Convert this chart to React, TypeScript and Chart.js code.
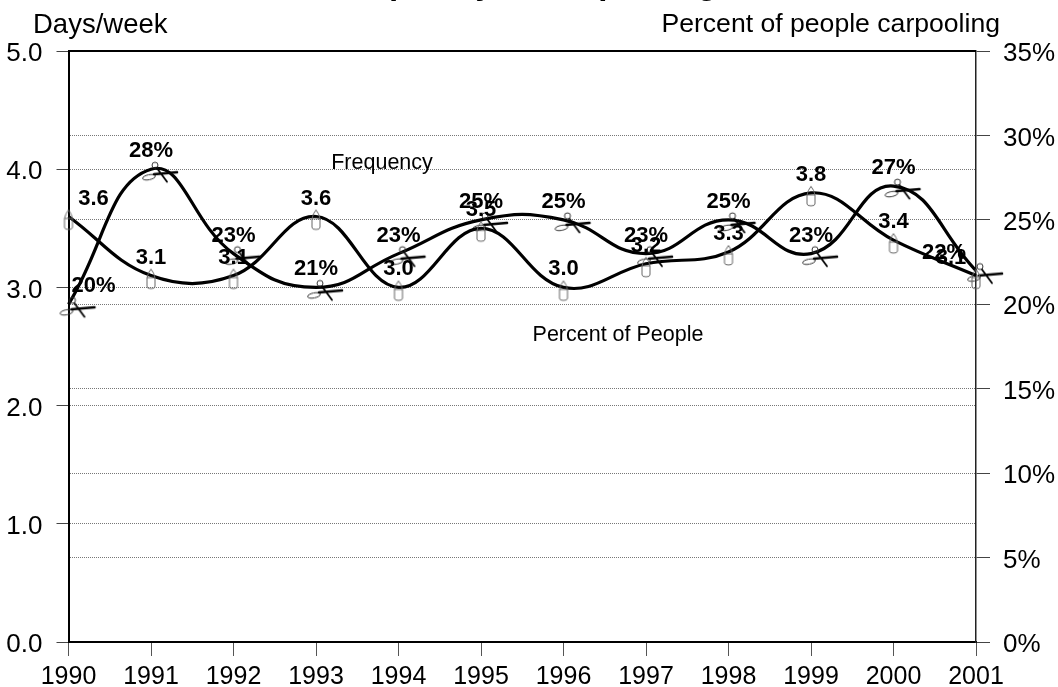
import React, { useEffect, useRef } from "react";
import { Chart, registerables } from "chart.js";

Chart.register(...registerables);

const years = ["1990", "1991", "1992", "1993", "1994", "1995", "1996", "1997", "1998", "1999", "2000", "2001"];
const frequency = [3.6, 3.1, 3.1, 3.6, 3.0, 3.5, 3.0, 3.2, 3.3, 3.8, 3.4, 3.1];
const percentPeople = [20, 28, 23, 21, 23, 25, 25, 23, 25, 23, 27, 22];

const FONT = '"Liberation Sans", Arial, sans-serif';
const AREA = { left: 68.5, right: 976, top: 51, bottom: 642 };

// Candle glyph: flame above the line, hollow body below it.
function makeCandle(): HTMLCanvasElement {
  const c = document.createElement("canvas");
  c.width = 24;
  c.height = 40;
  const g = c.getContext("2d")!;
  g.translate(12, 20);
  g.strokeStyle = "#666";
  g.lineWidth = 1;
  g.beginPath();
  g.moveTo(-4, 2);
  g.quadraticCurveTo(-3, -3, 0, -6.5);
  g.quadraticCurveTo(3, -3, 4, 2);
  g.stroke();
  g.beginPath();
  g.moveTo(-4, 2);
  g.lineTo(-4, 11);
  g.quadraticCurveTo(-4, 13, 0, 13);
  g.quadraticCurveTo(4, 13, 4, 11);
  g.lineTo(4, 2);
  g.closePath();
  g.stroke();
  return c;
}

// Scissors glyph: two finger loops and two black blades.
function makeScissors(): HTMLCanvasElement {
  const c = document.createElement("canvas");
  c.width = 64;
  c.height = 64;
  const g = c.getContext("2d")!;
  g.translate(32, 32);
  g.strokeStyle = "#333";
  g.lineWidth = 1;
  g.beginPath();
  g.arc(4, -4, 3, 0, Math.PI * 2);
  g.stroke();
  g.beginPath();
  g.ellipse(-2, 8, 6.5, 2.5, -0.2, 0, Math.PI * 2);
  g.stroke();
  g.strokeStyle = "#000";
  g.lineCap = "round";
  g.lineWidth = 2.6;
  g.beginPath();
  g.moveTo(3, 5);
  g.lineTo(26, 3);
  g.stroke();
  g.lineWidth = 1.8;
  g.beginPath();
  g.moveTo(6, -1);
  g.lineTo(16, 12.5);
  g.stroke();
  return c;
}

const textPlugin = {
  id: "chartText",
  afterDatasetsDraw(chart: any) {
    const { ctx } = chart;
    ctx.save();
    ctx.fillStyle = "#000";
    ctx.textBaseline = "middle";
    ctx.textAlign = "center";

    // Value labels above each point; the end labels are pulled inside the frame.
    ctx.font = `bold 22px ${FONT}`;
    const formats = [(v: number) => v.toFixed(1), (v: number) => `${v}%`];
    chart.data.datasets.forEach((ds: any, d: number) => {
      chart.getDatasetMeta(d).data.forEach((pt: any, i: number) => {
        const shift = i === 0 ? 25 : i === years.length - 1 ? (d === 0 ? -25 : -32) : 0;
        ctx.fillText(formats[d](ds.data[i]), pt.x + shift, pt.y - 18);
      });
    });

    // Series captions
    ctx.font = `21.5px ${FONT}`;
    ctx.fillText("Frequency", 382, 163);
    ctx.fillText("Percent of People", 618, 335);

    // Axis captions and heading, which runs off the top of the page
    ctx.textAlign = "left";
    ctx.font = `27.5px ${FONT}`;
    ctx.fillText("Days/week", 33, 25);
    ctx.textAlign = "right";
    ctx.font = `26.6px ${FONT}`;
    ctx.fillText("Percent of people carpooling", 1000, 25);
    ctx.font = `bold 33px ${FONT}`;
    ctx.textAlign = "center";
    ctx.fillText("Frequency of Carpooling", 522, -15);
    ctx.restore();
  },
  beforeDatasetsDraw(chart: any) {
    const { ctx, chartArea } = chart;
    ctx.save();
    ctx.strokeStyle = "#000";
    ctx.lineWidth = 2;
    ctx.beginPath();
    ctx.moveTo(chartArea.left, chartArea.top);
    ctx.lineTo(chartArea.right, chartArea.top);
    ctx.stroke();
    ctx.restore();
  },
};

const innerGrid = (max: number) => (c: any) =>
  c.tick && (c.tick.value === 0 || c.tick.value === max) ? "rgba(0,0,0,0)" : "#777";

export default function App() {
  const ref = useRef<HTMLCanvasElement>(null);

  useEffect(() => {
    document.body.style.margin = "0";
    const tickFont = { family: FONT, size: 26 };
    const chart = new Chart(ref.current!, {
      type: "line",
      data: {
        labels: years,
        datasets: [
          {
            label: "Frequency",
            data: frequency,
            yAxisID: "y",
            borderColor: "#000",
            borderWidth: 3.2,
            tension: 0.4,
            fill: false,
            clip: false,
            pointStyle: makeCandle(),
            pointRadius: 5,
          },
          {
            label: "Percent of People",
            data: percentPeople,
            yAxisID: "y1",
            borderColor: "#000",
            borderWidth: 3.2,
            tension: 0.45,
            fill: false,
            clip: false,
            pointStyle: makeScissors(),
            pointRadius: 5,
          },
        ],
      },
      options: {
        animation: false,
        responsive: false,
        layout: { padding: { top: AREA.top, bottom: 0, left: 0, right: 0 } },
        plugins: { legend: { display: false }, tooltip: { enabled: false }, title: { display: false } },
        scales: {
          x: {
            type: "category",
            offset: false,
            grid: { drawOnChartArea: false, tickLength: 14, tickColor: "#555", tickWidth: 1 },
            border: { color: "#000", width: 2 },
            ticks: { font: { family: FONT, size: 25 }, color: "#000", padding: 6, maxRotation: 0, autoSkip: false },
            afterFit: (s: any) => {
              s.height = 687 - AREA.bottom;
            },
          },
          y: {
            position: "left",
            min: 0,
            max: 5,
            grid: { color: innerGrid(5), lineWidth: 1, tickLength: 12, tickColor: "#444", tickWidth: 1 },
            border: { color: "#000", width: 2, dash: [1, 1] },
            ticks: { font: tickFont, color: "#000", stepSize: 1, padding: 14, labelOffset: 3, callback: (v: any) => Number(v).toFixed(1) },
            afterFit: (s: any) => {
              s.width = AREA.left;
            },
          },
          y1: {
            position: "right",
            min: 0,
            max: 35,
            grid: { color: innerGrid(35), lineWidth: 1, tickLength: 14, tickColor: "#444", tickWidth: 1 },
            border: { color: "#222", width: 1.5, dash: [1, 1], dashOffset: 0.5 },
            ticks: { font: tickFont, color: "#000", stepSize: 5, padding: 13, labelOffset: 3, callback: (v: any) => `${v}%` },
            afterFit: (s: any) => {
              s.width = 1058 - AREA.right;
            },
          },
        },
      },
      plugins: [textPlugin],
    } as any);
    return () => chart.destroy();
  }, []);

  return <canvas ref={ref} width={1058} height={687} style={{ display: "block", background: "#fff" }} />;
}
